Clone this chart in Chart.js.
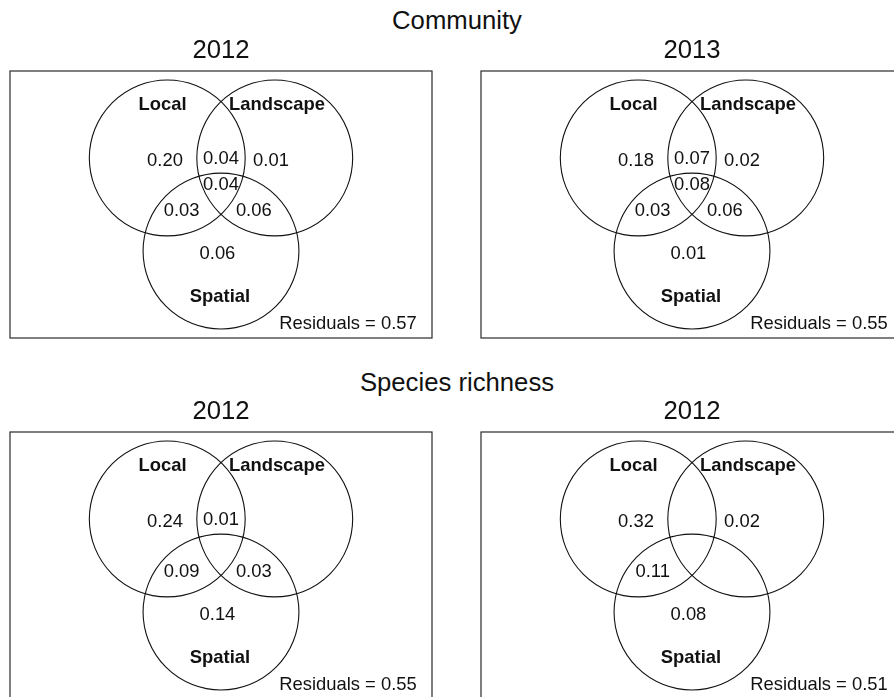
<!DOCTYPE html>
<html>
<head>
<meta charset="utf-8">
<script src="https://cdn.jsdelivr.net/npm/chart.js@4/dist/chart.umd.min.js"></script>
<style>
  html, body { margin: 0; padding: 0; background: #fff; overflow: hidden; }
  body { width: 894px; height: 697px; position: relative; font-family: "Liberation Sans", Arial, sans-serif; }
  .row-title { position: absolute; width: 894px; left: 10px; text-align: center; font-size: 25.7px; color: #111; line-height: 1; }
  .panel { position: absolute; }
</style>
</head>
<body>
<div class="row-title" id="row0"></div>
<div class="row-title" id="row1"></div>

<script>
// Variation partitioning (adjusted R²) among Local, Landscape and Spatial predictor sets
const rowTitles = ['Community', 'Species richness'];
const panelTitles = ['2012', '2013', '2012', '2012'];
const setNames = ['Local', 'Landscape', 'Spatial'];

// Fractions per panel (order: Community 2012, Community 2013, Richness 2012, Richness 2012)
// null = fraction not shown
const localOnly        = [0.20, 0.18, 0.24, 0.32];
const localLandscape   = [0.04, 0.07, 0.01, null];
const landscapeOnly    = [0.01, 0.02, null, 0.02];
const allThree         = [0.04, 0.08, null, null];
const localSpatial     = [0.03, 0.03, 0.09, 0.11];
const landscapeSpatial = [0.06, 0.06, 0.03, null];
const spatialOnly      = [0.06, 0.01, 0.14, 0.08];
const residuals        = [0.57, 0.55, 0.55, 0.51];

// ---- geometry (diagram units: circle centres one unit apart) ----
const RADIUS = 0.725;
const CENTRES = [{x: 0, y: 0}, {x: 1, y: 0}, {x: 0.5, y: -Math.sqrt(3) / 2}];
const X_RANGE = [-1.463, 2.463];
const Y_RANGE = [-1.675, 0.809];

// text anchor points in diagram units
const SET_LABEL_POS = [{x: -0.044, y: 0.493}, {x: 1.021, y: 0.493}, {x: 0.49, y: -1.291}];
const FRACTION_POS = {
  localOnly:        {x: -0.021, y: -0.026},
  localLandscape:   {x: 0.5,    y: -0.013},
  landscapeOnly:    {x: 0.965,  y: -0.026},
  allThree:         {x: 0.5,    y: -0.252},
  localSpatial:     {x: 0.134,  y: -0.491},
  landscapeSpatial: {x: 0.805,  y: -0.491},
  spatialOnly:      {x: 0.467,  y: -0.893}
};
const FRACTIONS = {localOnly, localLandscape, landscapeOnly, allThree, localSpatial, landscapeSpatial, spatialOnly};

// ---- page layout (pixels) ----
const BOX_W = 422, BOX_H = 267;
const BOX_LEFT = [10, 481];
const BOX_TOP = [71, 432];
const PAD = {left: 10, right: 10, top: 45, bottom: 10};
const FONT = '"Liberation Sans", Arial, sans-serif';
const TEXT_COLOR = '#111';

document.getElementById('row0').textContent = rowTitles[0];
document.getElementById('row0').style.top = (BOX_TOP[0] - 50 - 12.85) + 'px';
document.getElementById('row1').textContent = rowTitles[1];
document.getElementById('row1').style.top = (BOX_TOP[1] - 49 - 12.85) + 'px';

const vennPlugin = {
  id: 'vennText',
  beforeDatasetsDraw(chart) {
    const {ctx, chartArea: a} = chart;
    ctx.save();
    ctx.strokeStyle = '#2a2a2a';
    ctx.lineWidth = 1.2;
    ctx.strokeRect(a.left, a.top, a.right - a.left, a.bottom - a.top);
    ctx.restore();
  },
  afterDatasetsDraw(chart, args, opts) {
    const {ctx, chartArea: a, scales: {x, y}} = chart;
    const i = opts.panel;
    ctx.save();
    ctx.fillStyle = TEXT_COLOR;
    ctx.textBaseline = 'middle';
    ctx.textAlign = 'center';

    // panel title
    ctx.font = '25.7px ' + FONT;
    ctx.fillText(panelTitles[i], (a.left + a.right) / 2, a.top - 20);

    // set names
    ctx.font = 'bold 18.4px ' + FONT;
    setNames.forEach((name, k) => {
      ctx.fillText(name, x.getPixelForValue(SET_LABEL_POS[k].x), y.getPixelForValue(SET_LABEL_POS[k].y));
    });

    // fraction values
    ctx.font = '18.4px ' + FONT;
    Object.keys(FRACTIONS).forEach(key => {
      const v = FRACTIONS[key][i];
      if (v === null || v === undefined) return;
      const p = FRACTION_POS[key];
      ctx.fillText(v.toFixed(2), x.getPixelForValue(p.x), y.getPixelForValue(p.y));
    });

    // residuals, bottom-right of the box
    ctx.textAlign = 'right';
    ctx.fillText('Residuals = ' + residuals[i].toFixed(2),
      x.getPixelForValue(X_RANGE[1] - 0.142), y.getPixelForValue(Y_RANGE[0] + 0.130));
    ctx.restore();
  }
};

function radiusPx(ctx) {
  const sx = ctx.chart.scales.x;
  return Math.abs(sx.getPixelForValue(RADIUS) - sx.getPixelForValue(0));
}

for (let i = 0; i < 4; i++) {
  const col = i % 2, row = Math.floor(i / 2);
  const wrap = document.createElement('div');
  wrap.className = 'panel';
  wrap.style.left = (BOX_LEFT[col] - PAD.left) + 'px';
  wrap.style.top = (BOX_TOP[row] - PAD.top) + 'px';
  const canvas = document.createElement('canvas');
  const w = BOX_W + PAD.left + PAD.right, h = BOX_H + PAD.top + PAD.bottom;
  canvas.width = w; canvas.height = h;
  canvas.style.width = w + 'px'; canvas.style.height = h + 'px';
  wrap.appendChild(canvas);
  document.body.appendChild(wrap);

  new Chart(canvas, {
    type: 'scatter',
    data: {
      datasets: [{
        data: CENTRES,
        pointStyle: 'circle',
        pointRadius: radiusPx,
        pointHoverRadius: radiusPx,
        pointBackgroundColor: 'rgba(0,0,0,0)',
        pointBorderColor: '#111',
        pointBorderWidth: 1.1,
        clip: false
      }]
    },
    options: {
      responsive: false,
      devicePixelRatio: 1,
      animation: false,
      events: [],
      layout: {padding: PAD},
      plugins: {
        legend: {display: false},
        tooltip: {enabled: false},
        title: {display: false},
        vennText: {panel: i}
      },
      scales: {
        x: {type: 'linear', min: X_RANGE[0], max: X_RANGE[1], display: false},
        y: {type: 'linear', min: Y_RANGE[0], max: Y_RANGE[1], display: false}
      }
    },
    plugins: [vennPlugin]
  });
}
</script>
</body>
</html>
